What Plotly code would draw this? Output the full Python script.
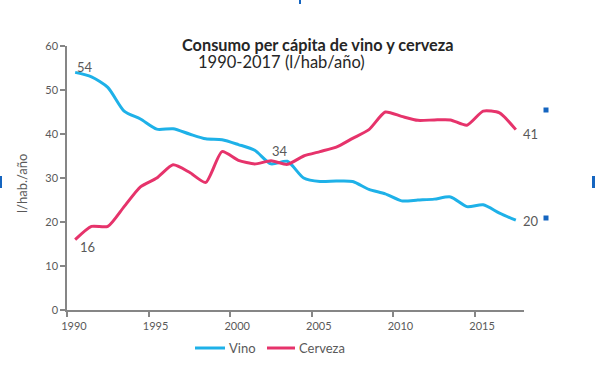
import plotly.graph_objects as go

years = list(range(1990, 2018))
vino = [54, 53, 50.6, 45.2, 43.4, 41.1, 41.2, 40, 38.9, 38.7, 37.6, 36.3, 33.2, 33.8,
        30, 29.2, 29.3, 29.2, 27.4, 26.4, 24.8, 25, 25.2, 25.7, 23.5, 23.9, 22, 20.4]
cerveza = [16, 19, 19, 23.5, 28, 30, 33, 31.3, 29, 36, 34, 33.2, 33.9, 33.1,
           35, 36, 37, 39, 41, 45, 44, 43.1, 43.2, 43.2, 42, 45.2, 44.8, 41]
series_names = ["Vino", "Cerveza"]
xtick_labels = ["1990", "1995", "2000", "2005", "2010", "2015"]
ytick_vals = [0, 10, 20, 30, 40, 50, 60]

BLUE = "#1EB1E8"
PINK = "#E6336B"
GRAY = "#595959"
FONT = "Lato, 'Liberation Sans', sans-serif"

L, R, T, B = 67, 524, 46, 310
W = R - L
H = B - T
def px(x):
    return (x - L) / W
def py(y):
    return (B - y) / H

fig = go.Figure()
fig.add_trace(go.Scatter(x=years, y=vino, name=series_names[0], mode="lines", showlegend=False,
                         line=dict(color=BLUE, width=3, shape="spline", smoothing=0.7)))
fig.add_trace(go.Scatter(x=years, y=cerveza, name=series_names[1], mode="lines", showlegend=False,
                         line=dict(color=PINK, width=3, shape="spline", smoothing=0.6)))

ann = []
def lab(x, y, xs, ys, xanchor="left", yanchor="middle"):
    ann.append(dict(x=x, y=y, xref="x", yref="y", text=str(round(y)), showarrow=False,
                    xshift=xs, yshift=ys, xanchor=xanchor, yanchor=yanchor,
                    font=dict(family=FONT, size=13, color=GRAY)))

lab(years[0], vino[0], 0, -5, "left", "bottom")
lab(years[0], cerveza[0], 3, 3, "left", "top")
lab(years[13], vino[13], -7, 0, "center", "bottom")
lab(years[-1], cerveza[-1], 5, -4, "left", "middle")
lab(years[-1], vino[-1], 5, -1, "left", "middle")

# titles
ann.append(dict(x=px(318), y=py(45), xref="paper", yref="paper",
                text="<b>Consumo per cápita de vino y cerveza</b>", showarrow=False,
                xanchor="center", yanchor="middle",
                font=dict(family=FONT, size=16.3, color="#262626")))
ann.append(dict(x=px(281), y=py(62), xref="paper", yref="paper",
                text="1990-2017 (l/hab/año)", showarrow=False,
                xanchor="center", yanchor="middle",
                font=dict(family=FONT, size=16.5, color="#262626")))
ann.append(dict(x=px(22), y=py(184), xref="paper", yref="paper",
                text="l/hab./año", showarrow=False, textangle=-90,
                xanchor="center", yanchor="middle",
                font=dict(family=FONT, size=13, color=GRAY)))

shapes = []
# custom legend
legend_items = [(195, 225, 227, series_names[0], BLUE), (267, 295, 297, series_names[1], PINK)]
for (x0, x1, tx, name, col) in legend_items:
    shapes.append(dict(type="line", xref="paper", yref="paper", x0=px(x0), x1=px(x1),
                       y0=py(348), y1=py(348), line=dict(color=col, width=3)))
    ann.append(dict(x=px(tx), y=py(348), xref="paper", yref="paper", text=name,
                    showarrow=False, xanchor="left", yanchor="middle",
                    font=dict(family=FONT, size=13, color=GRAY)))

for (cx, cy) in [(546, 110), (546, 218)]:
    shapes.append(dict(type="rect", xref="paper", yref="paper",
                       x0=px(cx - 2.5), x1=px(cx + 2.5), y0=py(cy + 2.5), y1=py(cy - 2.5),
                       fillcolor="#1565C0", line=dict(width=0)))
for (x0, x1, y0, y1) in [(0, 2, 176, 188), (592, 595, 176, 188), (299, 301, 0, 4)]:
    shapes.append(dict(type="rect", xref="paper", yref="paper",
                       x0=px(x0), x1=px(x1), y0=py(y1), y1=py(y0),
                       fillcolor="#1565C0", line=dict(width=0)))

fig.update_layout(
    width=595, height=365,
    margin=dict(l=L, r=595 - R, t=T, b=365 - B, autoexpand=False),
    paper_bgcolor="white", plot_bgcolor="white",
    font=dict(family=FONT, color=GRAY),
    showlegend=False,
    annotations=ann,
    shapes=shapes,
    xaxis=dict(range=[1989.5, 2017.5], tickvals=[1989.5, 1994.5, 1999.5, 2004.5, 2009.5, 2014.5],
               ticktext=xtick_labels, ticklabelshift=7, ticks="outside", ticklen=5,
               tickcolor="#868686", tickwidth=1.5, showline=True, linecolor="#868686",
               linewidth=1.5, showgrid=False, zeroline=False, automargin=False,
               tickfont=dict(family=FONT, size=11, color=GRAY)),
    yaxis=dict(range=[0, 60], tickvals=ytick_vals, ticks="outside", ticklen=5,
               tickcolor="#868686", tickwidth=1.5, showline=True, linecolor="#868686",
               linewidth=1.5, showgrid=False, zeroline=False, automargin=False,
               tickfont=dict(family=FONT, size=11, color=GRAY)),
)

fig.write_html("out.html", config={"displayModeBar": False},
               post_script="document.body.style.margin='0';document.body.style.overflow='hidden';")
